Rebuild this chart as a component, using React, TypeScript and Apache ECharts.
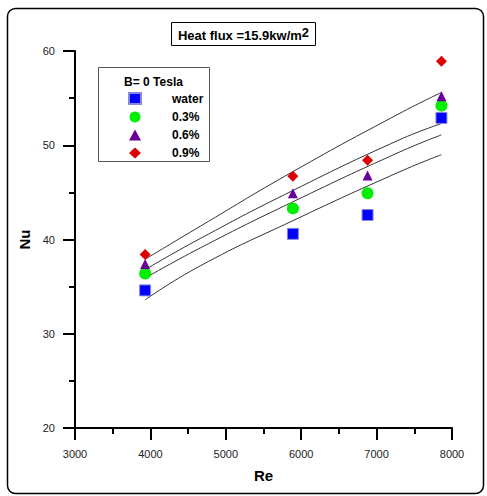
import React, { useEffect, useRef } from "react";
import * as echarts from "echarts";

// Measured points: Reynolds number vs Nusselt number
const reValues = [3930, 5890, 6880, 7860];
const nuWater = [34.6, 40.6, 42.6, 52.9];
const nu03 = [36.4, 43.3, 44.9, 54.2];
const nu06 = [37.4, 44.9, 46.8, 55.2];
const nu09 = [38.4, 46.7, 48.4, 58.9];

// Fitted correlation curves, sampled along Re
const fitRe = [3930, 4660, 5890, 7310, 7860];
const fitWater = [33.6, 37.2, 42.0, 47.2, 49.0];
const fit03 = [35.9, 39.1, 44.0, 49.3, 51.1];
const fit06 = [36.8, 40.1, 45.2, 50.6, 52.3];
const fit09 = [37.9, 41.4, 47.2, 53.4, 55.6];

const seriesNames = ["water", "0.3%", "0.6%", "0.9%"];

const pairs = (xs: number[], ys: number[]) => xs.map((x, i) => [x, ys[i]]);

const FONT = "Arial, 'Liberation Sans', sans-serif";

export default function App() {
  const ref = useRef<HTMLDivElement>(null);

  useEffect(() => {
    document.body.style.margin = "0";
    if (!ref.current) return;
    const chart = echarts.init(ref.current, undefined, { renderer: "svg" });

    const fitLine = (name: string, xs: number[], ys: number[]) => ({
      name,
      type: "line",
      data: pairs(xs, ys),
      smooth: true,
      showSymbol: false,
      symbol: "none",
      silent: true,
      z: 1,
      lineStyle: { color: "#333333", width: 1 },
    });

    const axisLine = { show: true, onZero: false, lineStyle: { color: "#000", width: 2 } };
    const plain = (v: number) => String(v);

    chart.setOption({
      animation: false,
      backgroundColor: "#fff",
      textStyle: { fontFamily: FONT },
      grid: { left: 75, top: 51, width: 377, height: 377, containLabel: false },
      xAxis: {
        type: "value",
        min: 3000,
        max: 8000,
        interval: 1000,
        name: "Re",
        nameLocation: "middle",
        nameGap: 40,
        nameTextStyle: { fontSize: 15, fontWeight: "bold", color: "#000", fontFamily: FONT },
        axisLine,
        axisTick: { show: true, inside: false, length: 12, lineStyle: { color: "#000", width: 2 } },
        minorTick: { show: true, splitNumber: 2, length: 6, lineStyle: { color: "#000", width: 2 } },
        axisLabel: { fontSize: 11, color: "#222", margin: 20, fontFamily: FONT, formatter: plain },
        splitLine: { show: false },
      },
      yAxis: {
        type: "value",
        min: 20,
        max: 60,
        interval: 10,
        name: "Nu",
        nameLocation: "middle",
        nameGap: 40,
        nameRotate: 90,
        nameTextStyle: { fontSize: 15, fontWeight: "bold", color: "#000", fontFamily: FONT },
        axisLine,
        axisTick: { show: true, inside: false, length: 12, lineStyle: { color: "#000", width: 2 } },
        minorTick: { show: true, splitNumber: 2, length: 6, lineStyle: { color: "#000", width: 2 } },
        axisLabel: { fontSize: 11, color: "#222", margin: 20, fontFamily: FONT, formatter: plain },
        splitLine: { show: false },
      },
      legend: {
        data: seriesNames,
        orient: "vertical",
        left: 128,
        top: 92,
        padding: 0,
        itemWidth: 12,
        itemHeight: 11,
        itemGap: 6,
        textStyle: {
          fontSize: 12,
          fontWeight: "bold",
          color: "#000",
          fontFamily: FONT,
          padding: [0, 0, 0, 26],
        },
      },
      graphic: [
        {
          type: "rect",
          shape: { x: 7.5, y: 8.5, width: 476, height: 485, r: 8 },
          style: { fill: "none", stroke: "#000", lineWidth: 1.5 },
          silent: true,
        },
        {
          type: "rect",
          shape: { x: 171.5, y: 22.5, width: 144, height: 23 },
          style: { fill: "#fff", stroke: "#000", lineWidth: 1 },
          silent: true,
        },
        {
          type: "text",
          x: 243.5,
          y: 34,
          style: {
            text: "{b|Heat flux =15.9kw/m}{s|2}",
            align: "center",
            verticalAlign: "middle",
            rich: {
              b: { fontSize: 13, fontWeight: "bold", fontFamily: FONT, fill: "#000", lineHeight: 16, verticalAlign: "bottom" },
              s: { fontSize: 13, fontWeight: "bold", fontFamily: FONT, fill: "#000", lineHeight: 16, verticalAlign: "top", padding: [0, 0, 3, 0] },
            },
          },
        },
        {
          type: "rect",
          shape: { x: 98.5, y: 67.5, width: 111, height: 94 },
          style: { fill: "#fff", stroke: "#555", lineWidth: 1 },
          silent: true,
          z: -1,
        },
        {
          type: "text",
          x: 153.5,
          y: 82,
          style: {
            text: "B= 0 Tesla",
            align: "center",
            verticalAlign: "middle",
            fontSize: 12,
            fontWeight: "bold",
            fontFamily: FONT,
            fill: "#000",
          },
        },
      ],
      series: [
        fitLine("fit water", fitRe, fitWater),
        fitLine("fit 0.3%", fitRe, fit03),
        fitLine("fit 0.6%", fitRe, fit06),
        fitLine("fit 0.9%", fitRe, fit09),
        {
          name: "water",
          type: "scatter",
          symbol: "rect",
          symbolSize: 11,
          z: 3,
          itemStyle: { color: "#0000ff", borderColor: "#8888dd", borderWidth: 1, opacity: 1 },
          data: pairs(reValues, nuWater),
        },
        {
          name: "0.3%",
          type: "scatter",
          symbol: "circle",
          symbolSize: 12,
          z: 3,
          itemStyle: { color: "#00ee00", opacity: 1 },
          data: pairs(reValues, nu03),
        },
        {
          name: "0.6%",
          type: "scatter",
          symbol: "triangle",
          symbolSize: 10,
          z: 3,
          itemStyle: { color: "#660099", opacity: 1 },
          data: pairs(reValues, nu06),
        },
        {
          name: "0.9%",
          type: "scatter",
          symbol: "diamond",
          symbolSize: 11,
          z: 3,
          itemStyle: { color: "#dd0000", opacity: 1 },
          data: pairs(reValues, nu09),
        },
      ],
    });

    return () => chart.dispose();
  }, []);

  return <div ref={ref} style={{ width: 487, height: 496 }} />;
}
